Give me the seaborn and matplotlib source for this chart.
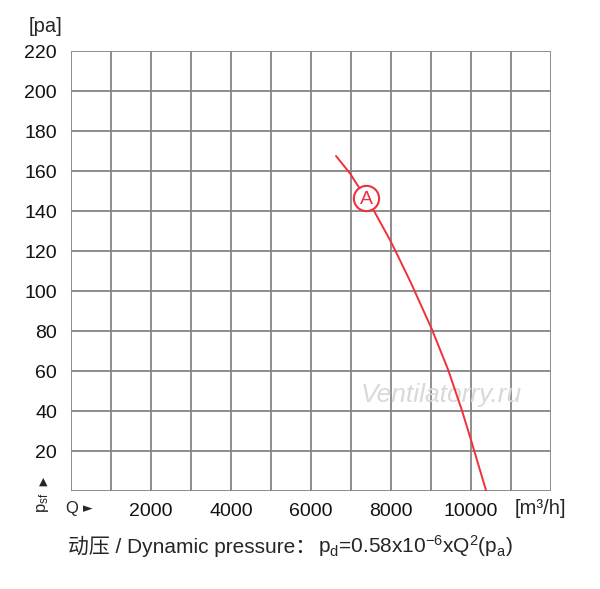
import numpy as np
import pandas as pd
import matplotlib
matplotlib.use("Agg")
import matplotlib.pyplot as plt
import seaborn as sns

flow = [6625, 6975, 7375, 7585, 7975, 8120, 8500, 9030, 9430, 9770, 10000, 10380]
pressure = [167.5, 158.8, 146.3, 139.7, 125.5, 119.7, 104, 80.5, 60.5, 40.5, 25.5, 0]

x_ticks = [2000, 4000, 6000, 8000, 10000]
y_ticks = [20, 40, 60, 80, 100, 120, 140, 160, 180, 200, 220]

marker_flow = 7375
marker_pressure = 146.3

sns.set_style("white")
plt.rcParams['font.family'] = ['Liberation Sans', 'Noto Sans CJK SC', 'DejaVu Sans']
plt.rcParams['mathtext.fontset'] = 'custom'
plt.rcParams['mathtext.rm'] = 'Liberation Sans'
plt.rcParams['mathtext.it'] = 'Liberation Sans'

df = pd.DataFrame({'Q': flow, 'psf': pressure})

fig = plt.figure(figsize=(6, 5.89), dpi=100)
ax = fig.add_axes([71 / 600, 98 / 589, 480 / 600, 440 / 589])

grid_col = '#858585'
for v in range(0, 12001, 1000):
    ax.axvline(v, color=grid_col, lw=1.3, zorder=1)
for v in range(0, 221, 20):
    ax.axhline(v, color=grid_col, lw=1.3, zorder=1)

sns.lineplot(data=df, x='Q', y='psf', color='#f0303a', lw=1.4, sort=False, ax=ax, zorder=3)

# circled label A
ax.scatter([marker_flow], [marker_pressure], s=330, facecolor='white',
           edgecolor='#f0303a', linewidth=1.5, zorder=4)
ax.text(marker_flow, marker_pressure - 0.5, 'A', color='#f0303a', fontsize=14,
        ha='center', va='center', zorder=5)

# watermark
ax.text(9250, 48, 'Ventilatorry.ru', color='#d9d9d9', fontsize=19,
        style='italic', ha='center', va='center', zorder=2)

ax.set_xlim(0, 12000)
ax.set_ylim(0, 220)
ax.set_xticks(x_ticks)
ax.set_xticklabels([str(t) for t in x_ticks])
ax.set_yticks(y_ticks)
ax.set_yticklabels([str(t) for t in y_ticks])
ax.tick_params(axis='both', length=0, labelsize=14, colors='#111111')
ax.tick_params(axis='x', pad=9)
ax.tick_params(axis='y', pad=10)
ax.set_xlabel('')
ax.set_ylabel('')
for s in ax.spines.values():
    s.set_visible(False)

fig.text(45 / 600, 1 - 27 / 589, '[pa]', fontsize=14.5, ha='center', va='center')
fig.text(540 / 600, 1 - 508 / 589, '[m³/h]', fontsize=14.5, ha='center', va='center')
fig.text(72 / 600, 1 - 509 / 589, 'Q', fontsize=12, ha='center', va='center')
fig.text(88 / 600, 1 - 509 / 589, '►', fontsize=9, ha='center', va='center',
         family=['DejaVu Sans'])
fig.text(43 / 600, 1 - 503 / 589, r'p$_{\mathrm{sf}}$', fontsize=12, ha='center',
         va='center', rotation=90)
fig.text(43 / 600, 1 - 482 / 589, '▲', fontsize=8, ha='center', va='center',
         family=['DejaVu Sans'])

t1 = fig.text(68 / 600, 1 - 553 / 589, '动压 / Dynamic pressure：', fontsize=15,
              ha='left', va='baseline')
fig.canvas.draw()
bb = t1.get_window_extent()
fig.text(bb.x1 / 600 + 2 / 600, 1 - 553 / 589,
         r'p$_\mathrm{d}$=0.58x10$^\mathrm{-6}$xQ$^\mathrm{2}$(p$_\mathrm{a}$)',
         fontsize=15, ha='left', va='baseline')

fig.savefig('out.png', dpi=100, facecolor='white')
